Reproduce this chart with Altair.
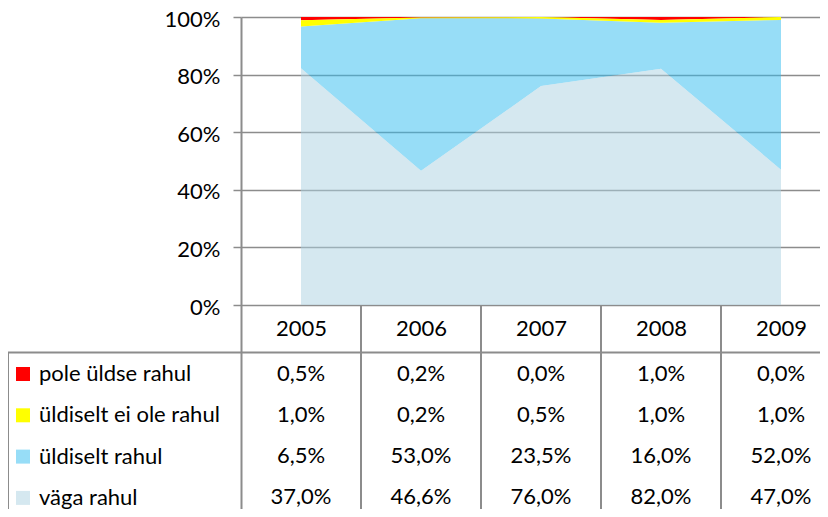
import altair as alt
import pandas as pd

years = [2005, 2006, 2007, 2008, 2009]
series = ["pole üldse rahul", "üldiselt ei ole rahul", "üldiselt rahul", "väga rahul"]
pole = [0.5, 0.2, 0.0, 1.0, 0.0]
ei_ole = [1.0, 0.2, 0.5, 1.0, 1.0]
uldiselt = [6.5, 53.0, 23.5, 16.0, 52.0]
vaga = [37.0, 46.6, 76.0, 82.0, 47.0]
colors = ["#FF0000", "#FFFF00", "#97DDF7", "#D5E8F0"]      # as seen (legend)
blue_fill = ["#2FBBEF", "#ABD1E1"]                          # drawn at 50% opacity
y_ticks = [0, 0.2, 0.4, 0.6, 0.8, 1.0]

FONT = "Lato"
FS = 22
GRID = "#8C8C8C"
W = 579          # plot width (px)
COL = 120        # table column width (px)
AREA_H = 288     # height of the 0-100% region
TABLE_H = 204    # height of the data table below
H = AREA_H + TABLE_H

values = [pole, ei_ole, uldiselt, vaga]
rows = []
cells = []
for s_i, (s, vals) in enumerate(zip(series, values)):
    for yr, v in zip(years, vals):
        txt = f"{v:.1f}%".replace(".", ",")
        rows.append({"year": yr, "series": s, "value": v, "stack": 3 - s_i})
        cells.append({"year": yr, "row": s, "text": txt})

df = pd.DataFrame(rows)
cells_df = pd.DataFrame(cells)
bounds_df = pd.DataFrame({"year": [y - 0.5 for y in years[1:]]})

xscale = alt.Scale(domain=[years[0] - 0.5, years[0] - 0.5 + W / COL], nice=False, zero=False)
yscale = alt.Scale(domain=[-TABLE_H / AREA_H, 1], nice=False, zero=False)

legend = alt.Legend(
    title=None, orient="none", legendX=-238, legendY=337, padding=9,
    symbolType="square", symbolSize=196, symbolStrokeWidth=0,
    labelFont=FONT, labelFontSize=FS, labelColor="black", labelLimit=0,
    rowPadding=19.3, labelOffset=5,
)

base = alt.Chart(df).transform_stack(
    stack="value", groupby=["year"], as_=["y0", "y1"], offset="normalize",
    sort=[alt.SortField("stack", order="ascending")],
)

x_enc = alt.X(
    "year:Q", scale=xscale,
    axis=alt.Axis(
        orient="bottom", offset=-TABLE_H, values=years, format="d", title=None,
        ticks=False, domain=False, grid=False,
        labelFont=FONT, labelFontSize=FS, labelColor="black",
        labelBaseline="middle", labelPadding=23,
    ),
)

blue = base.transform_filter(
    alt.FieldOneOfPredicate(field="series", oneOf=series[2:])
).mark_area(strokeWidth=0, opacity=0.5).encode(
    x=x_enc,
    y=alt.Y(
        "y0:Q", scale=yscale,
        axis=alt.Axis(
            values=y_ticks, format=".0%", title=None,
            labelFont=FONT, labelFontSize=FS, labelColor="black", labelPadding=13,
            labelOffset=2,
            tickSize=8, tickColor=GRID, tickWidth=1.5,
            domainColor=GRID, domainWidth=2,
            grid=True, gridColor=GRID, gridWidth=1.5,
        ),
    ),
    y2="y1:Q",
    fill=alt.Fill("series:N", scale=alt.Scale(domain=series[2:], range=blue_fill), legend=None),
)

redyel = base.transform_filter(
    alt.FieldOneOfPredicate(field="series", oneOf=series[:2])
).mark_area(strokeWidth=0).encode(
    x=alt.X("year:Q", scale=xscale),
    y=alt.Y("y0:Q", scale=yscale, axis=None),
    y2="y1:Q",
    color=alt.Color("series:N", scale=alt.Scale(domain=series, range=colors), legend=legend),
)

vlines = alt.Chart(bounds_df).mark_rule(color=GRID, strokeWidth=2).encode(
    x=alt.X("year:Q", scale=xscale),
    y=alt.value(AREA_H),
    y2=alt.value(H),
)

one = alt.Data(values=[{}])
hline = alt.Chart(one).mark_rule(color=GRID, strokeWidth=2).encode(
    x=alt.value(-234), x2=alt.value(W), y=alt.value(335.5)
)
lborder = alt.Chart(one).mark_rule(color=GRID, strokeWidth=2).encode(
    x=alt.value(-233), y=alt.value(335.5), y2=alt.value(H)
)

table = alt.Chart(cells_df).mark_text(font=FONT, fontSize=FS, color="black").encode(
    x=alt.X("year:Q", scale=xscale),
    y=alt.Y("row:N", scale=alt.Scale(type="point", domain=series, range=[356.5, 480], padding=0), axis=None),
    text="text:N",
)

chart = alt.layer(blue, redyel, vlines, hline, lborder, table).resolve_scale(
    y="independent"
).properties(
    width=W, height=H,
    autosize=alt.AutoSizeParams(type="none"),
    padding={"left": 233, "top": 9, "right": 0, "bottom": 0},
    background="white",
).configure_view(stroke=None)

chart.save("out.html", embed_options={"renderer": "svg", "actions": False})
